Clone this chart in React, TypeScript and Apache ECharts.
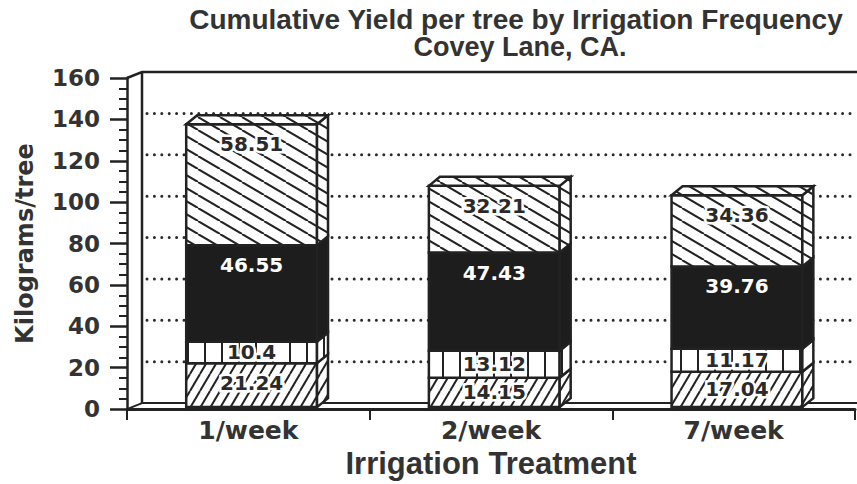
import React, { useEffect, useRef } from "react";
import * as echarts from "echarts";

const categories = ["1/week", "2/week", "7/week"];
const seg1 = [21.24, 14.15, 17.04];
const seg2 = [10.4, 13.12, 11.17];
const seg3 = [46.55, 47.43, 39.76];
const seg4 = [58.51, 32.21, 34.36];
const yMin = 0;
const yMax = 160;
const yStep = 20;
const gridValues = [20, 40, 60, 80, 100, 120, 140];
const titleLines = ["Cumulative Yield per tree by Irrigation Frequency", "Covey Lane, CA."];
const xName = "Irrigation Treatment";
const yName = "Kilograms/tree";

const LINE = "#222";
const TEXT = "#333";
const DARK = "#1d1d1d";

function makePattern(kind: string) {
  const c = document.createElement("canvas");
  let w = 10;
  let h = 17;
  if (kind === "back") { w = 22; h = 13; }
  if (kind === "vert") { w = 17; h = 4; }
  c.width = w;
  c.height = h;
  const ctx = c.getContext("2d")!;
  ctx.fillStyle = "#fff";
  ctx.fillRect(0, 0, w, h);
  ctx.strokeStyle = LINE;
  ctx.lineWidth = 2;
  if (kind === "fwd") {
    for (const o of [-w, 0, w]) {
      ctx.beginPath(); ctx.moveTo(o, h); ctx.lineTo(o + w, 0); ctx.stroke();
    }
  } else if (kind === "back") {
    for (const o of [-w, 0, w]) {
      ctx.beginPath(); ctx.moveTo(o, 0); ctx.lineTo(o + w, h); ctx.stroke();
    }
  } else {
    ctx.fillStyle = LINE;
    ctx.fillRect(0, 0, 2, h);
  }
  return { image: c, repeat: "repeat", imageWidth: w, imageHeight: h } as any;
}

export default function App() {
  const ref = useRef<HTMLDivElement>(null);
  useEffect(() => {
    if (!ref.current) return;
    const chart = echarts.init(ref.current, null, { renderer: "svg" });
    const fills: any[] = [makePattern("fwd"), makePattern("vert"), DARK, makePattern("back")];
    const topFill = makePattern("back");
    const layers = [seg1, seg2, seg3, seg4];
    const bases = categories.map(() => 0);
    const layerData = layers.map((arr) =>
      arr.map((v, i) => {
        const b = bases[i];
        bases[i] = b + v;
        return [i, b, b + v, v];
      })
    );
    const DX = 11, DY = -9, OY = -2;
    const WDX = 15, WDY = -6;

    const frameSeries = {
      type: "custom",
      z: 1,
      silent: true,
      clip: false,
      data: [[0, 0]],
      renderItem: (params: any, api: any) => {
        const cs = params.coordSys;
        const left = cs.x, right = cs.x + cs.width, top = cs.y, bottom = cs.y + cs.height;
        const children: any[] = [
          { type: "polyline", shape: { points: [[left, top], [left + WDX, top + WDY], [right + 2, top + WDY]] }, style: { stroke: LINE, lineWidth: 2.5, fill: null } },
          { type: "line", shape: { x1: left + WDX, y1: top + WDY, x2: left + WDX, y2: bottom + WDY }, style: { stroke: LINE, lineWidth: 2.5 } },
          { type: "line", shape: { x1: left, y1: bottom, x2: left + WDX, y2: bottom + WDY }, style: { stroke: LINE, lineWidth: 2 } },
          { type: "line", shape: { x1: left + WDX, y1: bottom + WDY, x2: right + 2, y2: bottom + WDY }, style: { stroke: LINE, lineWidth: 2 } },
        ];
        gridValues.forEach((v) => {
          const y = api.coord([0, v])[1] + WDY;
          children.push({ type: "line", shape: { x1: left + WDX + 5, y1: y, x2: right + 2, y2: y }, style: { stroke: "#2a2a2a", lineWidth: 3, lineDash: [0, 7.4], lineCap: "round" } });
        });
        return { type: "group", children };
      },
    };

    const barSeries = layerData.map((data, li) => ({
      type: "custom",
      z: 2,
      clip: false,
      data,
      renderItem: (params: any, api: any) => {
        const ci = api.value(0);
        const base = api.value(1);
        const top = api.value(2);
        const val = api.value(3);
        const pb = api.coord([ci, base]);
        const pt = api.coord([ci, top]);
        const band = api.size([1, 0])[0];
        const cx = pb[0];
        const x0 = cx - band * 0.256;
        const x1 = cx + band * 0.283;
        const yb = pb[1] + OY;
        const yt = pt[1] + OY;
        const fill = fills[li];
        const isDark = li === 2;
        const children: any[] = [
          { type: "rect", shape: { x: x0, y: yt, width: x1 - x0, height: yb - yt }, style: { fill, stroke: LINE, lineWidth: 2.5 } },
          { type: "polygon", shape: { points: [[x1, yb], [x1 + DX, yb + DY], [x1 + DX, yt + DY], [x1, yt]] }, style: { fill, stroke: LINE, lineWidth: 2.5 } },
        ];
        if (li === layers.length - 1) {
          children.push({ type: "polygon", shape: { points: [[x0, yt], [x0 + DX, yt + DY], [x1 + DX, yt + DY], [x1, yt]] }, style: { fill: topFill, stroke: LINE, lineWidth: 2.5 } });
        }
        const h = yb - yt;
        const ly = yt + Math.min(h / 2, 20);
        children.push({
          type: "text",
          style: {
            text: String(val),
            x: (x0 + x1) / 2,
            y: ly,
            align: "center",
            verticalAlign: "middle",
            fill: isDark ? "#fff" : "#2a2a2a",
            font: 'bold 20px "DejaVu Sans"',
            stroke: isDark ? null : "#fff",
            lineWidth: isDark ? 0 : 5,
          },
        });
        return { type: "group", children };
      },
    }));

    chart.setOption({
      animation: false,
      backgroundColor: "#fff",
      grid: { left: 127, right: 2, top: 78, height: 338, containLabel: false },
      graphic: [
        {
          type: "text",
          x: 516,
          y: 19,
          style: {
            text: titleLines[0],
            align: "center",
            verticalAlign: "middle",
            font: 'bold 28px "Liberation Sans"',
            fill: TEXT,
          },
        },
        {
          type: "text",
          x: 520,
          y: 47,
          style: {
            text: titleLines[1],
            align: "center",
            verticalAlign: "middle",
            font: 'bold 27px "Liberation Sans"',
            fill: TEXT,
          },
        },
      ],
      xAxis: {
        type: "category",
        data: categories,
        boundaryGap: true,
        name: xName,
        nameLocation: "middle",
        nameGap: 37,
        nameTextStyle: { fontFamily: "Liberation Sans", fontWeight: "bold", fontSize: 31, color: TEXT },
        axisLine: { lineStyle: { color: LINE, width: 3 } },
        axisTick: { show: true, length: 11, lineStyle: { color: LINE, width: 2 } },
        axisLabel: { margin: 9, fontFamily: "DejaVu Sans", fontWeight: "bold", fontSize: 25, color: TEXT },
        splitLine: { show: false },
      },
      yAxis: {
        type: "value",
        min: yMin,
        max: yMax,
        interval: yStep,
        name: yName,
        nameLocation: "middle",
        nameRotate: 90,
        nameGap: 90,
        nameTextStyle: { fontFamily: "DejaVu Sans", fontWeight: "bold", fontSize: 24, color: TEXT },
        axisLine: { show: true, lineStyle: { color: LINE, width: 2.5 } },
        axisTick: { show: true, length: 17, lineStyle: { color: LINE, width: 2.5 } },
        minorTick: { show: true, splitNumber: 4, length: 8, lineStyle: { color: LINE, width: 2 } },
        axisLabel: { margin: 27, fontFamily: "DejaVu Sans", fontWeight: "bold", fontSize: 23, color: TEXT },
        splitLine: { show: false },
      },
      series: [frameSeries, ...barSeries],
    } as any);
    return () => chart.dispose();
  }, []);
  return (
    <div
      ref={ref}
      style={{ position: "fixed", left: 0, top: 0, width: 857, height: 484, background: "#fff" }}
    />
  );
}
